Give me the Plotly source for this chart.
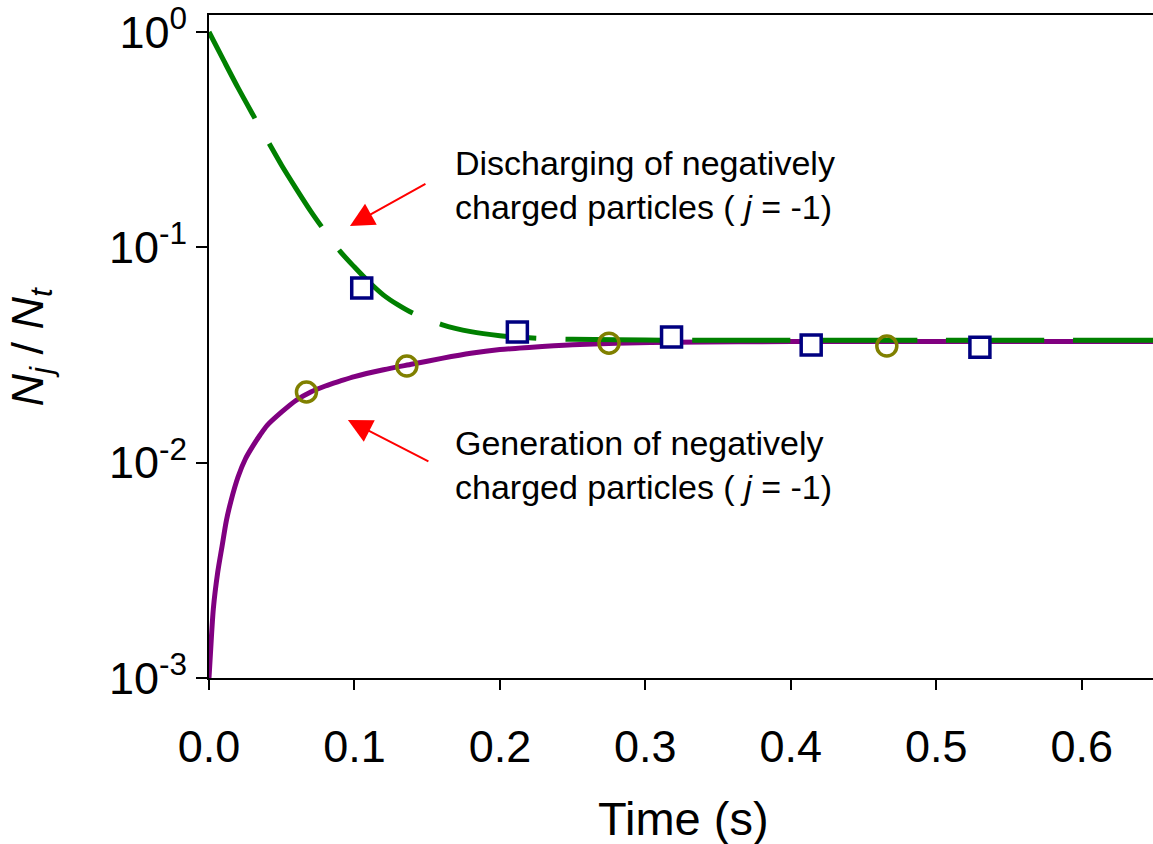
import plotly.graph_objects as go

# ---- data ----
green_t = [0, 0.01, 0.02, 0.03, 0.04, 0.05, 0.06, 0.07, 0.08, 0.09, 0.10, 0.11, 0.12,
           0.13, 0.14, 0.16, 0.18, 0.20, 0.22, 0.25, 0.30, 0.40, 0.50, 0.65]
green_y = [1.0, 0.74, 0.55, 0.415, 0.315, 0.24, 0.187, 0.147, 0.118, 0.096, 0.081, 0.069,
           0.060, 0.054, 0.0495, 0.0438, 0.0406, 0.0389, 0.038, 0.0374, 0.0371, 0.037, 0.037, 0.037]

purple_t = [0, 0.001, 0.003, 0.006, 0.009, 0.012, 0.015, 0.02, 0.025, 0.03, 0.035, 0.04,
            0.05, 0.06, 0.07, 0.08, 0.09, 0.10, 0.12, 0.14, 0.16, 0.18, 0.20, 0.22, 0.25,
            0.28, 0.32, 0.40, 0.50, 0.65]
purple_y = [0.001, 0.0013, 0.0021, 0.0031, 0.0041, 0.0054, 0.0066, 0.0086, 0.0104, 0.0119,
            0.0134, 0.0149, 0.0172, 0.0195, 0.0213, 0.0227, 0.0239, 0.0251, 0.0270, 0.0287,
            0.0305, 0.0322, 0.0335, 0.0343, 0.0353, 0.0359, 0.0362, 0.0365, 0.0365, 0.0365]

square_t = [0.105, 0.212, 0.318, 0.414, 0.530]
square_y = [0.0647, 0.0404, 0.0383, 0.0352, 0.0344]

circle_t = [0.067, 0.136, 0.275, 0.466]
circle_y = [0.0213, 0.0281, 0.0359, 0.0348]

x_ticks = [0.0, 0.1, 0.2, 0.3, 0.4, 0.5, 0.6]
x_ticktext = ["0.0", "0.1", "0.2", "0.3", "0.4", "0.5", "0.6"]
y_ticks = [0.001, 0.01, 0.1, 1]
y_ticktext = ["10<sup>-3</sup>", "10<sup>-2</sup>", "10<sup>-1</sup>", "10<sup>0</sup>"]

FONT = "Arial, Liberation Sans, sans-serif"

fig = go.Figure()
fig.add_trace(go.Scatter(x=purple_t, y=purple_y, mode="lines",
                         line=dict(color="#800080", width=5, shape="spline", smoothing=0.8),
                         showlegend=False))
fig.add_trace(go.Scatter(x=green_t, y=green_y, mode="lines",
                         line=dict(color="#008000", width=5, dash="98px,29px",
                                   shape="spline", smoothing=0.8),
                         showlegend=False))
fig.add_trace(go.Scatter(x=circle_t, y=circle_y, mode="markers",
                         marker=dict(symbol="circle-open", size=20, color="#808000",
                                     line=dict(color="#808000", width=3.5)),
                         showlegend=False))
fig.add_trace(go.Scatter(x=square_t, y=square_y, mode="markers",
                         marker=dict(symbol="square", size=20, color="white",
                                     line=dict(color="#000080", width=3.5)),
                         showlegend=False))

annotations = [
    dict(x=0.0969, y=-0.901, xref="x", yref="y", ax=77, ay=-43, text="",
         showarrow=True, arrowhead=2, arrowsize=2.4, arrowwidth=2, arrowcolor="#ff0000"),
    dict(x=0.0955, y=-1.802, xref="x", yref="y", ax=82, ay=42, text="",
         showarrow=True, arrowhead=2, arrowsize=2.4, arrowwidth=2, arrowcolor="#ff0000"),
    dict(x=(453 - 209) / 944, y=(678 - 185) / 663, xref="paper", yref="paper",
         xanchor="left", yanchor="middle", align="left", showarrow=False,
         text="Discharging of negatively<br>charged particles ( <i>j</i> = -1)",
         font=dict(family=FONT, size=34, color="black")),
    dict(x=(453 - 209) / 944, y=(678 - 465) / 663, xref="paper", yref="paper",
         xanchor="left", yanchor="middle", align="left", showarrow=False,
         text="Generation of negatively<br>charged particles ( <i>j</i> = -1)",
         font=dict(family=FONT, size=34, color="black")),
    dict(x=(683 - 209) / 944, y=(678 - 818) / 663, xref="paper", yref="paper",
         xanchor="center", yanchor="middle", showarrow=False, text="Time (s)",
         font=dict(family=FONT, size=47, color="black")),
    dict(x=(30 - 209) / 944, y=0.5, xref="paper", yref="paper", textangle=-90,
         xanchor="center", yanchor="middle", showarrow=False,
         text="<i>N<sub>j</sub></i> / <i>N<sub>t</sub></i>",
         font=dict(family=FONT, size=45, color="black")),
]

fig.update_layout(
    width=1153, height=844, autosize=False,
    margin=dict(l=209, r=0, t=15, b=166),
    paper_bgcolor="white", plot_bgcolor="white",
    font=dict(family=FONT, color="black"),
    annotations=annotations,
    xaxis=dict(range=[0, 0.649], tickvals=x_ticks, ticktext=x_ticktext,
               ticks="outside", ticklen=10, tickwidth=2, tickcolor="black",
               showline=True, linewidth=2, linecolor="black", mirror=True,
               showgrid=False, zeroline=False, ticklabelstandoff=18,
               ticklabeloverflow="allow",
               tickfont=dict(family=FONT, size=45, color="black")),
    yaxis=dict(type="log", range=[-3, 0.079], tickvals=y_ticks, ticktext=y_ticktext,
               ticks="outside", ticklen=11, tickwidth=2, tickcolor="black",
               showline=True, linewidth=2, linecolor="black", mirror=False,
               showgrid=False, zeroline=False, ticklabeloverflow="allow",
               tickfont=dict(family=FONT, size=45, color="black")),
)

fig.write_html("out.html")
